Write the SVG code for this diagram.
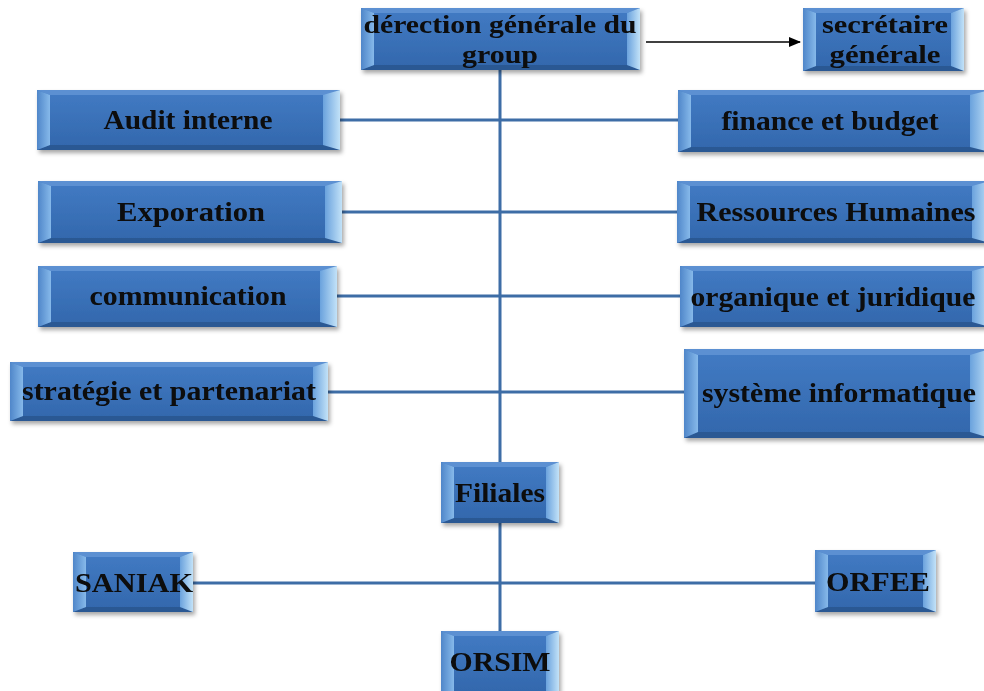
<svg xmlns="http://www.w3.org/2000/svg" width="984" height="691" viewBox="0 0 984 691">
  <style>
    .lbl { font-family: "Liberation Serif", "Times New Roman", serif; font-weight: bold; font-size: 28px; fill: #0a0a0a; text-anchor: middle; }
    .two { font-size: 25px; }
    .body { fill: url(#gBody); }
    .lb { fill: url(#gLeft); }
    .rb { fill: url(#gRight); }
    .tb { fill: #5b90d2; }
    .bb { fill: #2b5893; }
    .wire { stroke: #3d6da6; stroke-width: 3; fill: none; }
    .arrow { stroke: #000; stroke-width: 1.6; fill: none; }
  </style>
  <defs>
    <linearGradient id="gBody" x1="0" y1="0" x2="0" y2="1">
      <stop offset="0" stop-color="#427bc4"/>
      <stop offset="1" stop-color="#3267ac"/>
    </linearGradient>
    <linearGradient id="gLeft" x1="0" y1="0" x2="1" y2="0">
      <stop offset="0" stop-color="#4f86c9"/>
      <stop offset="1" stop-color="#86b9ea"/>
    </linearGradient>
    <linearGradient id="gRight" x1="0" y1="0" x2="1" y2="0">
      <stop offset="0" stop-color="#6aa2dd"/>
      <stop offset="1" stop-color="#c2e2f8"/>
    </linearGradient>
    <filter id="shadow" x="-10%" y="-20%" width="125%" height="150%">
      <feDropShadow dx="2" dy="3" stdDeviation="2" flood-color="#000" flood-opacity="0.35"/>
    </filter>
    <marker id="head" viewBox="0 0 12 10" refX="11" refY="5" markerWidth="12" markerHeight="10" markerUnits="userSpaceOnUse" orient="auto">
      <path d="M0,0 L12,5 L0,10 z" fill="#000"/>
    </marker>
  </defs>

  <g id="connectors">
    <line class="wire" x1="500" y1="70" x2="500" y2="631"/>
    <line class="wire" x1="340" y1="120" x2="678" y2="120"/>
    <line class="wire" x1="342" y1="212" x2="677" y2="212"/>
    <line class="wire" x1="337" y1="296" x2="680" y2="296"/>
    <line class="wire" x1="328" y1="392" x2="684" y2="392"/>
    <line class="wire" x1="193" y1="583" x2="815" y2="583"/>
    <line class="arrow" x1="646" y1="42" x2="800" y2="42" marker-end="url(#head)"/>
  </g>

  <!-- direction generale: 361,8 279x62 -->
  <g id="direction" filter="url(#shadow)">
    <rect class="body" x="361" y="8" width="279" height="62"/>
    <polygon class="tb" points="361,8 640,8 627,13 374,13"/>
    <polygon class="bb" points="361,70 640,70 627,65 374,65"/>
    <polygon class="lb" points="361,8 374,13 374,65 361,70"/>
    <polygon class="rb" points="627,13 640,8 640,70 627,65"/>
    <text class="lbl two" x="500" y="33" textLength="273" lengthAdjust="spacingAndGlyphs">dérection générale du</text>
    <text class="lbl two" x="500" y="63" textLength="76" lengthAdjust="spacingAndGlyphs">group</text>
  </g>

  <!-- secretaire: 803,8 161x63 -->
  <g id="secretaire" filter="url(#shadow)">
    <rect class="body" x="803" y="8" width="161" height="63"/>
    <polygon class="tb" points="803,8 964,8 951,13 816,13"/>
    <polygon class="bb" points="803,71 964,71 951,66 816,66"/>
    <polygon class="lb" points="803,8 816,13 816,66 803,71"/>
    <polygon class="rb" points="951,13 964,8 964,71 951,66"/>
    <text class="lbl two" x="885" y="33" textLength="126" lengthAdjust="spacingAndGlyphs">secrétaire</text>
    <text class="lbl two" x="885" y="63" textLength="111" lengthAdjust="spacingAndGlyphs">générale</text>
  </g>

  <!-- audit: 37,90 303x60 -->
  <g id="audit" filter="url(#shadow)">
    <rect class="body" x="37" y="90" width="303" height="60"/>
    <polygon class="tb" points="37,90 340,90 327,95 50,95"/>
    <polygon class="bb" points="37,150 340,150 327,145 50,145"/>
    <polygon class="lb" points="37,90 50,95 50,145 37,150"/>
    <polygon class="rb" points="323,95 340,90 340,150 323,145"/>
    <text class="lbl" x="188" y="129" textLength="169" lengthAdjust="spacingAndGlyphs">Audit interne</text>
  </g>

  <!-- finance: 678,90 -->
  <g id="finance" filter="url(#shadow)">
    <rect class="body" x="678" y="90" width="312" height="62"/>
    <polygon class="tb" points="678,90 990,90 977,95 691,95"/>
    <polygon class="bb" points="678,152 990,152 977,147 691,147"/>
    <polygon class="lb" points="678,90 691,95 691,147 678,152"/>
    <polygon class="rb" points="970,95 990,90 990,152 970,147"/>
    <text class="lbl" x="830" y="130" textLength="217" lengthAdjust="spacingAndGlyphs">finance et budget</text>
  </g>

  <!-- exporation: 38,181 304x62 -->
  <g id="exporation" filter="url(#shadow)">
    <rect class="body" x="38" y="181" width="304" height="62"/>
    <polygon class="tb" points="38,181 342,181 329,186 51,186"/>
    <polygon class="bb" points="38,243 342,243 329,238 51,238"/>
    <polygon class="lb" points="38,181 51,186 51,238 38,243"/>
    <polygon class="rb" points="325,186 342,181 342,243 325,238"/>
    <text class="lbl" x="191" y="221" textLength="148" lengthAdjust="spacingAndGlyphs">Exporation</text>
  </g>

  <!-- ressources humaines: 677,181 -->
  <g id="rh" filter="url(#shadow)">
    <rect class="body" x="677" y="181" width="313" height="62"/>
    <polygon class="tb" points="677,181 990,181 977,186 690,186"/>
    <polygon class="bb" points="677,243 990,243 977,238 690,238"/>
    <polygon class="lb" points="677,181 690,186 690,238 677,243"/>
    <polygon class="rb" points="972,186 990,181 990,243 972,238"/>
    <text class="lbl" x="836" y="221" textLength="279" lengthAdjust="spacingAndGlyphs">Ressources Humaines</text>
  </g>

  <!-- communication: 38,266 299x61 -->
  <g id="communication" filter="url(#shadow)">
    <rect class="body" x="38" y="266" width="299" height="61"/>
    <polygon class="tb" points="38,266 337,266 324,271 51,271"/>
    <polygon class="bb" points="38,327 337,327 324,322 51,322"/>
    <polygon class="lb" points="38,266 51,271 51,322 38,327"/>
    <polygon class="rb" points="320,271 337,266 337,327 320,322"/>
    <text class="lbl" x="188" y="305" textLength="197" lengthAdjust="spacingAndGlyphs">communication</text>
  </g>

  <!-- organique: 680,266 -->
  <g id="organique" filter="url(#shadow)">
    <rect class="body" x="680" y="266" width="310" height="61"/>
    <polygon class="tb" points="680,266 990,266 977,271 693,271"/>
    <polygon class="bb" points="680,327 990,327 977,322 693,322"/>
    <polygon class="lb" points="680,266 693,271 693,322 680,327"/>
    <polygon class="rb" points="972,271 990,266 990,327 972,322"/>
    <text class="lbl" x="833" y="306" textLength="285" lengthAdjust="spacingAndGlyphs">organique et juridique</text>
  </g>

  <!-- strategie: 10,362 318x59 -->
  <g id="strategie" filter="url(#shadow)">
    <rect class="body" x="10" y="362" width="318" height="59"/>
    <polygon class="tb" points="10,362 328,362 315,367 23,367"/>
    <polygon class="bb" points="10,421 328,421 315,416 23,416"/>
    <polygon class="lb" points="10,362 23,367 23,416 10,421"/>
    <polygon class="rb" points="313,367 328,362 328,421 313,416"/>
    <text class="lbl" x="169" y="400" textLength="294" lengthAdjust="spacingAndGlyphs">stratégie et partenariat</text>
  </g>

  <!-- systeme informatique: 684,349 -->
  <g id="systeme" filter="url(#shadow)">
    <rect class="body" x="684" y="349" width="306" height="89"/>
    <polygon class="tb" points="684,349 990,349 977,355 698,355"/>
    <polygon class="bb" points="684,438 990,438 977,432 698,432"/>
    <polygon class="lb" points="684,349 698,355 698,432 684,438"/>
    <polygon class="rb" points="970,355 990,349 990,438 970,432"/>
    <text class="lbl" x="839" y="402" textLength="274" lengthAdjust="spacingAndGlyphs">système informatique</text>
  </g>

  <!-- filiales: 441,462 118x61 -->
  <g id="filiales" filter="url(#shadow)">
    <rect class="body" x="441" y="462" width="118" height="61"/>
    <polygon class="tb" points="441,462 559,462 546,467 454,467"/>
    <polygon class="bb" points="441,523 559,523 546,518 454,518"/>
    <polygon class="lb" points="441,462 454,467 454,518 441,523"/>
    <polygon class="rb" points="546,467 559,462 559,523 546,518"/>
    <text class="lbl" x="500" y="502" textLength="90" lengthAdjust="spacingAndGlyphs">Filiales</text>
  </g>

  <!-- saniak: 73,552 120x60 -->
  <g id="saniak" filter="url(#shadow)">
    <rect class="body" x="73" y="552" width="120" height="60"/>
    <polygon class="tb" points="73,552 193,552 180,557 86,557"/>
    <polygon class="bb" points="73,612 193,612 180,607 86,607"/>
    <polygon class="lb" points="73,552 86,557 86,607 73,612"/>
    <polygon class="rb" points="180,557 193,552 193,612 180,607"/>
    <text class="lbl" x="134" y="592" textLength="118" lengthAdjust="spacingAndGlyphs">SANIAK</text>
  </g>

  <!-- orfee: 815,550 121x62 -->
  <g id="orfee" filter="url(#shadow)">
    <rect class="body" x="815" y="550" width="121" height="62"/>
    <polygon class="tb" points="815,550 936,550 923,555 828,555"/>
    <polygon class="bb" points="815,612 936,612 923,607 828,607"/>
    <polygon class="lb" points="815,550 828,555 828,607 815,612"/>
    <polygon class="rb" points="923,555 936,550 936,612 923,607"/>
    <text class="lbl" x="878" y="591" textLength="104" lengthAdjust="spacingAndGlyphs">ORFEE</text>
  </g>

  <!-- orsim: 441,631 -->
  <g id="orsim" filter="url(#shadow)">
    <rect class="body" x="441" y="631" width="118" height="64"/>
    <polygon class="tb" points="441,631 559,631 546,636 454,636"/>
    <polygon class="lb" points="441,631 454,636 454,695 441,695"/>
    <polygon class="rb" points="546,636 559,631 559,695 546,695"/>
    <text class="lbl" x="500" y="671" textLength="101" lengthAdjust="spacingAndGlyphs">ORSIM</text>
  </g>
</svg>
